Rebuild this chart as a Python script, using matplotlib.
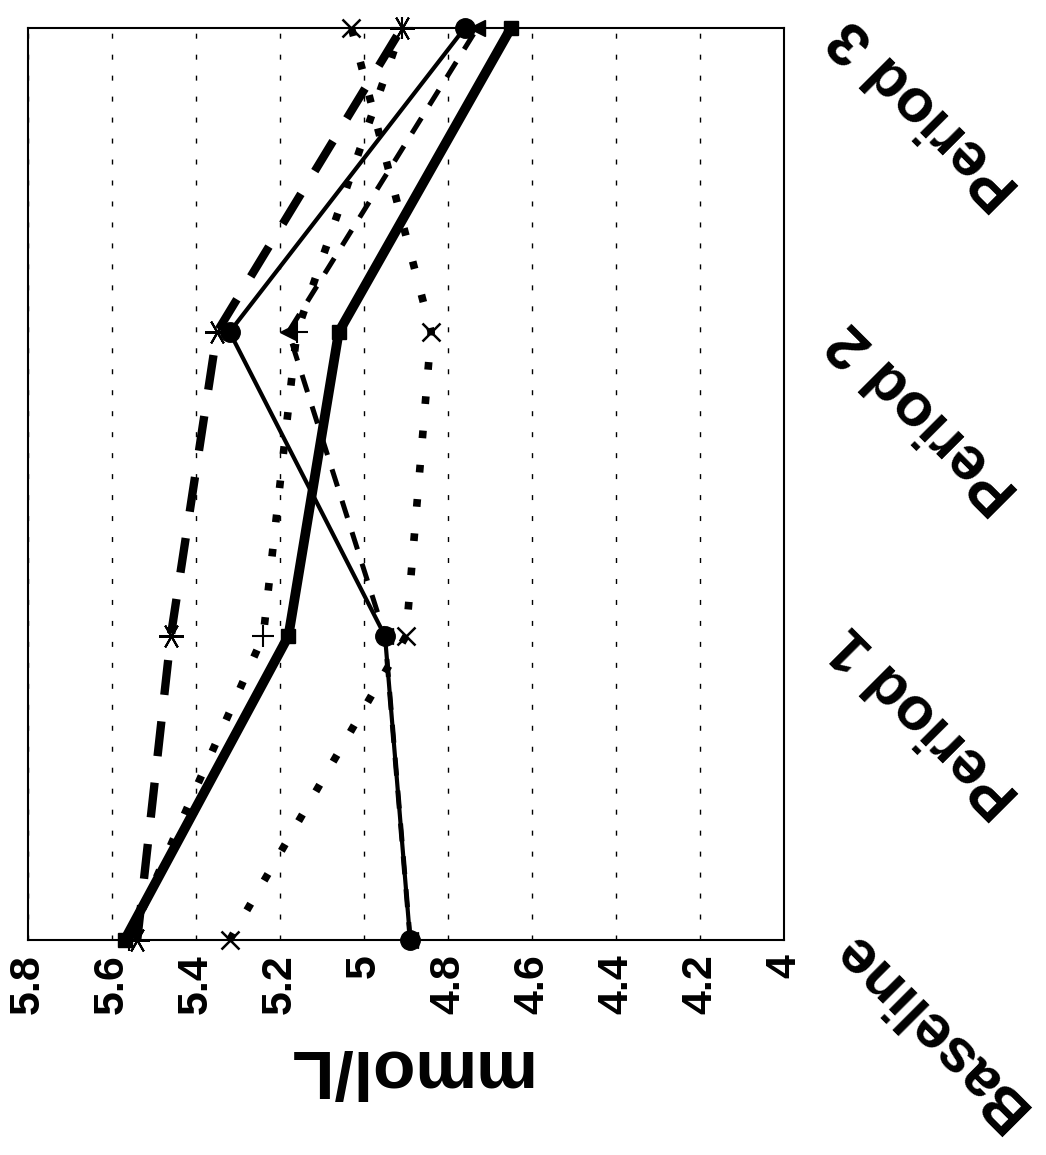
import numpy as np
from matplotlib import pyplot as plt

#DATA=======
categories = ['Baseline', 'Period 1', 'Period 2', 'Period 3']
value_ticks = [5.8, 5.6, 5.4, 5.2, 5.0, 4.8, 4.6, 4.4, 4.2, 4.0]
value_labels = ['5.8', '5.6', '5.4', '5.2', '5', '4.8', '4.6', '4.4', '4.2', '4']

square_vals = [5.57, 5.18, 5.06, 4.65]
circle_vals = [4.89, 4.95, 5.32, 4.76]
triangle_vals = [4.89, 4.95, 5.18, 4.73]
cross_vals = [5.32, 4.90, 4.84, 5.03]
asterisk_vals = [5.54, 5.46, 5.35, 4.91]
plus_vals = [5.56, 5.24, 5.16, 4.91]
#===========

plt.rcParams['font.family'] = ['Liberation Sans', 'DejaVu Sans']
plt.rcParams['font.weight'] = 'bold'

fig = plt.figure(figsize=(10.46, 11.55), dpi=100)
ax = fig.add_axes([0.0268, 0.1861, 0.7227, 0.7897])

pos = np.arange(len(categories))

# grid first so lines sit on top
ax.set_axisbelow(True)
ax.grid(axis='x', color='black', linewidth=1, linestyle=(0, (3.6, 11.5)))

ax.plot(plus_vals, pos, color='black', lw=5.5, linestyle=(0, (1, 3.5)),
        marker='+', ms=16, mew=1.5, clip_on=False)
ax.plot(cross_vals, pos, color='black', lw=5.5, linestyle=(0, (1, 3.5)),
        marker='x', ms=13, mew=1.8, clip_on=False)
ax.plot(asterisk_vals, pos, color='black', lw=6, linestyle=(0, (4.2, 3.2)),
        marker=(6, 2, 90), ms=18, mew=1.5, clip_on=False)
ax.plot(triangle_vals, pos, color='black', lw=3.6, linestyle=(0, (3.6, 3)),
        marker='<', ms=11, clip_on=False)
ax.plot(circle_vals, pos, color='black', lw=3,
        marker='o', ms=14, clip_on=False)
ax.plot(square_vals, pos, color='black', lw=7,
        marker='s', ms=10, clip_on=False)

ax.set_xlim(5.8, 4.0)
ax.set_ylim(0, 3)

ax.set_xticks(value_ticks, value_labels, rotation=90, fontsize=31, fontweight='bold')
ax.tick_params(axis='x', length=0, pad=10)

ax.yaxis.tick_right()
ax.set_yticks(pos, categories, fontsize=44, fontweight='bold')
ax.tick_params(axis='y', length=0, pad=40)
for lab in ax.get_yticklabels():
    lab.set_rotation(135)
    lab.set_rotation_mode('anchor')
    lab.set_ha('right')
    lab.set_va('center')

ax.set_xlabel('mmol/L', fontsize=50, fontweight='bold', rotation=180, labelpad=16)

for s in ax.spines.values():
    s.set_linewidth(1.5)
    s.set_color('black')

fig.savefig('out.png', dpi=100)
